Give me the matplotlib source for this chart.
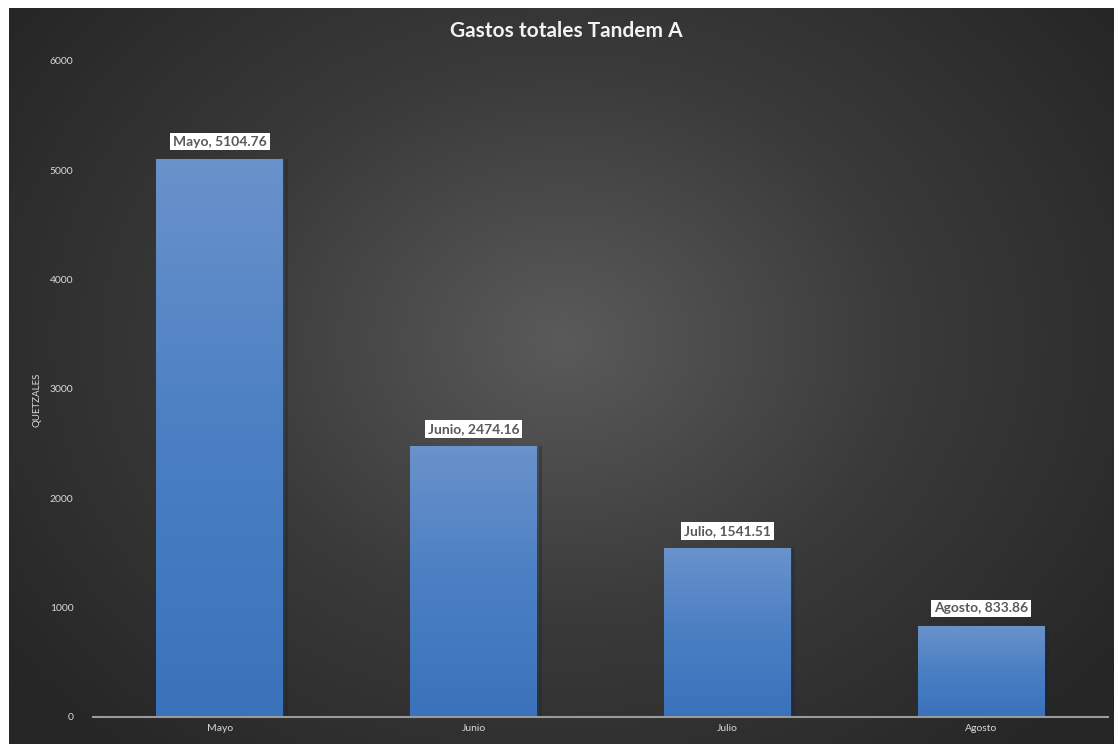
import numpy as np
import matplotlib
matplotlib.use("Agg")
import matplotlib.pyplot as plt
from matplotlib.colors import LinearSegmentedColormap

plt.rcParams['font.family'] = ['Lato', 'DejaVu Sans']

months = ["Mayo", "Junio", "Julio", "Agosto"]
gastos = [5104.76, 2474.16, 1541.51, 833.86]
yticks = [0, 1000, 2000, 3000, 4000, 5000, 6000]

W, H = 1114, 744
fig = plt.figure(figsize=(W / 100, H / 100), dpi=100, facecolor="white")

# dark radial-gradient backdrop
bg = fig.add_axes([9 / W, 0, 1 - 9 / W, (H - 8) / H])
bg.set_axis_off()
ny, nx = 300, 450
yy, xx = np.mgrid[0:ny, 0:nx]
cx, cy = nx * 0.50, ny * 0.45
r = np.sqrt(((xx - cx) / (nx * 0.62)) ** 2 + ((yy - cy) / (ny * 0.75)) ** 2)
r = np.clip(r, 0, 1)
bg_cmap = LinearSegmentedColormap.from_list("bg", ["#5a5a5a", "#3a3a3a", "#262626"])
bg.imshow(r, cmap=bg_cmap, aspect="auto", extent=[0, 1, 0, 1], vmin=0, vmax=1)
bg.set_xlim(0, 1)
bg.set_ylim(0, 1)

# plotting area
x0, x1 = 93 / W, 1108 / W
y0, y1 = 1 - 717 / H, 1 - 61 / H
ax = fig.add_axes([x0, y0, x1 - x0, y1 - y0])
ax.patch.set_alpha(0)
ax.set_xlim(-0.5, len(months) - 0.5)
ax.set_ylim(0, 6000)

bar_cmap = LinearSegmentedColormap.from_list("bar", ["#3a72bb", "#4a7fc3", "#6a92cb"])
bars = ax.bar(range(len(months)), gastos, width=0.5, color="#4f82c4", zorder=2)
for b in bars:
    bx, by = b.get_x(), b.get_y()
    bw, bh = b.get_width(), b.get_height()
    grad = np.linspace(0, 1, 256).reshape(-1, 1)
    im = ax.imshow(grad, cmap=bar_cmap, aspect="auto", origin="lower",
                   extent=[bx, bx + bw, by, by + bh], zorder=3)
    im.set_clip_path(b)
    # faint shadow on the right edge
    ax.bar(bx + bw + 0.006, bh, width=0.012, align="edge", color="#1a2535",
           alpha=0.35, zorder=1)

for i, (m, v) in enumerate(zip(months, gastos)):
    ax.annotate(f"{m}, {v}", xy=(i, v), xytext=(0, 12.5), textcoords="offset points",
                ha="center", va="center", fontsize=10, fontweight="bold",
                color="#595959", zorder=5,
                bbox=dict(boxstyle="square,pad=0.2", fc="white", ec="none"))

ax.set_yticks(yticks)
ax.set_xticks(range(len(months)))
ax.set_xticklabels(months)
ax.tick_params(axis="both", length=0, colors="#d9d9d9", labelsize=7.5)
ax.tick_params(axis="y", pad=14)
ax.tick_params(axis="x", pad=5)
for s in ["top", "right", "left"]:
    ax.spines[s].set_visible(False)
ax.spines["bottom"].set_color("#9a9a9a")
ax.spines["bottom"].set_linewidth(1.5)
ax.spines["bottom"].set_zorder(6)

fig.text(37 / W, 1 - 400 / H, "QUETZALES", rotation=90, ha="center", va="center",
         color="#d9d9d9", fontsize=7)
fig.text(566 / W, 1 - 31 / H, "Gastos totales Tandem A", ha="center", va="center",
         color="#f2f2f2", fontsize=15, fontweight="bold")

fig.savefig("out.png", dpi=100, facecolor="white")
